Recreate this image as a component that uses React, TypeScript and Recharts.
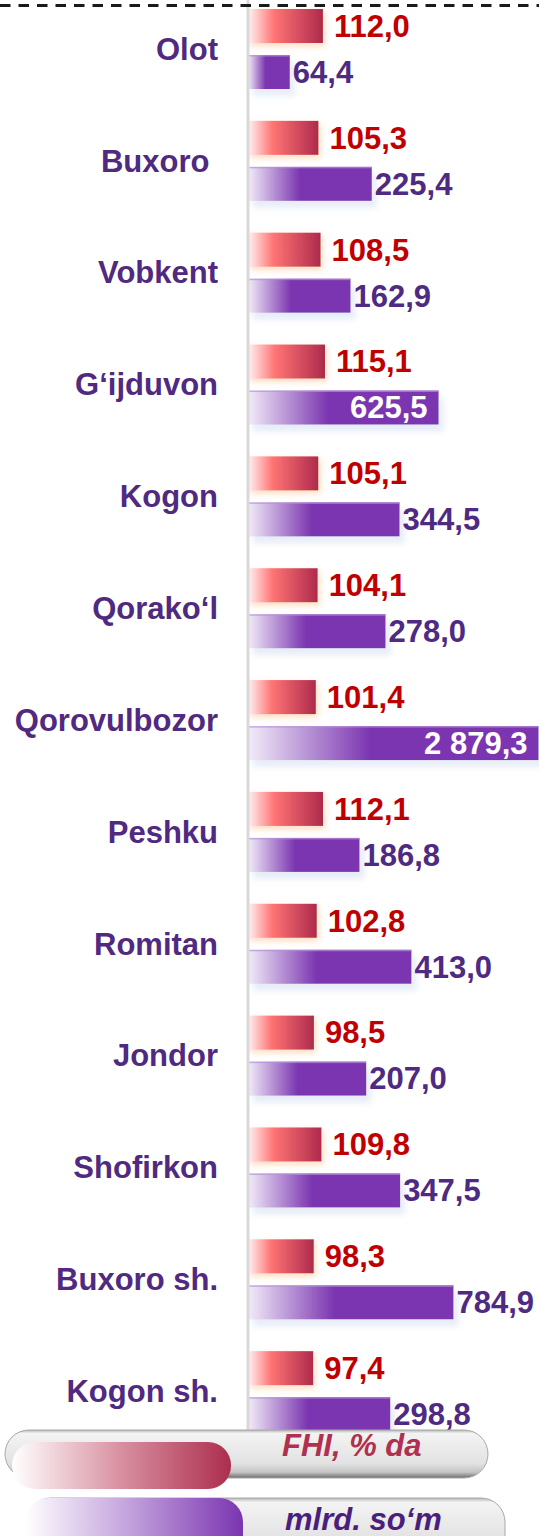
import { Bar, BarChart, LabelList, XAxis, YAxis } from 'recharts'

const CATEGORIES = [
  'Olot',
  'Buxoro ',
  'Vobkent',
  'G‘ijduvon',
  'Kogon',
  'Qorako‘l',
  'Qorovulbozor',
  'Peshku',
  'Romitan',
  'Jondor',
  'Shofirkon',
  'Buxoro sh.',
  'Kogon sh.',
]
const FHI = [112.0, 105.3, 108.5, 115.1, 105.1, 104.1, 101.4, 112.1, 102.8, 98.5, 109.8, 98.3, 97.4]
const VOLUME = [64.4, 225.4, 162.9, 625.5, 344.5, 278.0, 2879.3, 186.8, 413.0, 207.0, 347.5, 784.9, 298.8]
const FHI_LABEL = 'FHI, % da'
const VOLUME_LABEL = 'mlrd. so‘m'
// value written inside the bar (white) for these districts
const INSIDE_LABELS = ['G‘ijduvon', 'Qorovulbozor']

const FONT = '"Liberation Sans", Arial, sans-serif'
const FS = 31
const W = 539

const data = CATEGORIES.map((name, i) => ({ name, fhi: FHI[i], volume: VOLUME[i] }))

const fmt = (v: number) => {
  const [int, dec] = v.toFixed(1).split('.')
  return int.replace(/\B(?=(\d{3})+(?!\d))/g, ' ') + ',' + dec
}

function CategoryTick({ x, y, payload }: any) {
  return (
    <text
      x={x}
      y={y}
      dy="0.35em"
      textAnchor="end"
      fill="#4f2a80"
      fontFamily={FONT}
      fontSize={FS}
      fontWeight="bold"
      xmlSpace="preserve"
      style={{ whiteSpace: 'pre' }}
    >
      {payload.value}
    </text>
  )
}

function FhiLabel({ x, y, width, height, value }: any) {
  return (
    <text
      x={Number(x) + Number(width) + 11}
      y={Number(y) + Number(height) / 2}
      dy="0.35em"
      fill="#c00000"
      fontFamily={FONT}
      fontSize={FS}
      fontWeight="bold"
    >
      {fmt(value)}
    </text>
  )
}

function VolumeLabel({ x, y, width, height, value, index }: any) {
  const inside = INSIDE_LABELS.includes(CATEGORIES[index])
  return (
    <text
      x={inside ? Number(x) + Number(width) - 11 : Number(x) + Number(width) + 3}
      y={Number(y) + Number(height) / 2}
      dy="0.35em"
      textAnchor={inside ? 'end' : 'start'}
      fill={inside ? '#ffffff' : '#4e2a82'}
      fontFamily={FONT}
      fontSize={FS}
      fontWeight="bold"
    >
      {fmt(value)}
    </text>
  )
}

const FhiBar = (p: any) => (
  <rect x={p.x} y={p.y} width={Math.max(p.width, 0)} height={p.height} fill="url(#fhiGrad)" filter="url(#fhiGlow)" />
)
const VolumeBar = (p: any) => (
  <g>
    <rect x={p.x} y={p.y} width={Math.max(p.width, 0)} height={p.height} fill="url(#volGrad)" filter="url(#volShadow)" />
    <rect x={p.x} y={p.y} width={Math.max(p.width, 0)} height={1.5} fill="#b592d6" opacity={0.7} />
  </g>
)

function LegendPills() {
  return (
    <svg width={W} height={116} style={{ position: 'absolute', left: 0, top: 1420 }}>
      <defs>
        <linearGradient id="tube" x1="0" y1="0" x2="0" y2="1">
          <stop offset="0" stopColor="#b5b5b5" />
          <stop offset="0.07" stopColor="#f3f3f3" />
          <stop offset="0.3" stopColor="#ededed" />
          <stop offset="0.7" stopColor="#e2e2e2" />
          <stop offset="0.88" stopColor="#c4c4c4" />
          <stop offset="1" stopColor="#6c6c6c" />
        </linearGradient>
        <linearGradient id="legRed" x1="0" y1="0" x2="1" y2="0">
          <stop offset="0" stopColor="#ffffff" />
          <stop offset="0.5" stopColor="#d88fa0" />
          <stop offset="1" stopColor="#ac2e4e" />
        </linearGradient>
        <linearGradient id="legPurple" x1="0" y1="0" x2="1" y2="0">
          <stop offset="0" stopColor="#ffffff" />
          <stop offset="0.5" stopColor="#bf9dda" />
          <stop offset="1" stopColor="#7a35b0" />
        </linearGradient>
      </defs>
      <rect x={5} y={10} width={483} height={48} rx={24} fill="url(#tube)" stroke="#a8a8a8" strokeWidth={1} />
      <rect x={12} y={22} width={219} height={47} rx={23} fill="url(#legRed)" />
      <text x={282} y={36} fill="#b0304f" fontFamily={FONT} fontSize={FS} fontWeight="bold" fontStyle="italic">
        {FHI_LABEL}
      </text>
      <rect x={27} y={78} width={478} height={60} rx={24} fill="url(#tube)" stroke="#a8a8a8" strokeWidth={1} />
      <rect x={25} y={78} width={218} height={60} rx={24} fill="url(#legPurple)" />
      <text x={285} y={110} fill="#4a1f7c" fontFamily={FONT} fontSize={FS} fontWeight="bold" fontStyle="italic">
        {VOLUME_LABEL}
      </text>
    </svg>
  )
}

export default function App() {
  return (
    <div style={{ position: 'absolute', left: 0, top: 0, width: W, height: 1536, overflow: 'hidden', background: '#fff' }}>
      <div style={{ position: 'absolute', left: 0, top: -7 }}>
        <BarChart
          width={W}
          height={1454}
          data={data}
          layout="vertical"
          margin={{ top: 0, right: 0, bottom: 0, left: 0 }}
          barSize={34}
          barGap={12}
        >
          <defs>
            <linearGradient id="fhiGrad" x1="0" y1="0" x2="1" y2="0">
              <stop offset="0" stopColor="#fff2f2" />
              <stop offset="0.35" stopColor="#ff7474" />
              <stop offset="1" stopColor="#ae2a4c" />
            </linearGradient>
            <linearGradient id="volGrad" x1="0" y1="0" x2="1" y2="0">
              <stop offset="0" stopColor="#f2ecf8" />
              <stop offset="0.42" stopColor="#7b36b0" />
              <stop offset="1" stopColor="#7b36b0" />
            </linearGradient>
            <filter id="fhiGlow" x="-20%" y="-40%" width="150%" height="200%">
              <feDropShadow dx="2" dy="3" stdDeviation="3" floodColor="#ffb070" floodOpacity="0.45" />
            </filter>
            <filter id="volShadow" x="-20%" y="-40%" width="150%" height="220%">
              <feDropShadow dx="5" dy="7" stdDeviation="3" floodColor="#c9d6ee" floodOpacity="0.45" />
            </filter>
          </defs>
          <XAxis xAxisId="fhi" type="number" domain={[0, 435]} allowDataOverflow hide />
          <XAxis xAxisId="volume" type="number" scale="log" domain={[34, 2900]} allowDataOverflow hide />
          <YAxis
            type="category"
            dataKey="name"
            width={248}
            tickLine={false}
            tickSize={0}
            tickMargin={30}
            axisLine={{ stroke: '#d9d9d9', strokeWidth: 3 }}
            tick={<CategoryTick />}
          />
          <Bar xAxisId="fhi" dataKey="fhi" shape={FhiBar} isAnimationActive={false}>
            <LabelList dataKey="fhi" content={<FhiLabel />} />
          </Bar>
          <Bar xAxisId="volume" dataKey="volume" shape={VolumeBar} isAnimationActive={false}>
            <LabelList dataKey="volume" content={<VolumeLabel />} />
          </Bar>
        </BarChart>
      </div>
      <svg width={W} height={12} style={{ position: 'absolute', left: 0, top: 0 }}>
        <line x1={0} x2={W} y1={5.5} y2={5.5} stroke="#1a1a1a" strokeWidth={3} strokeDasharray="10.5 8" />
      </svg>
      <LegendPills />
    </div>
  )
}
